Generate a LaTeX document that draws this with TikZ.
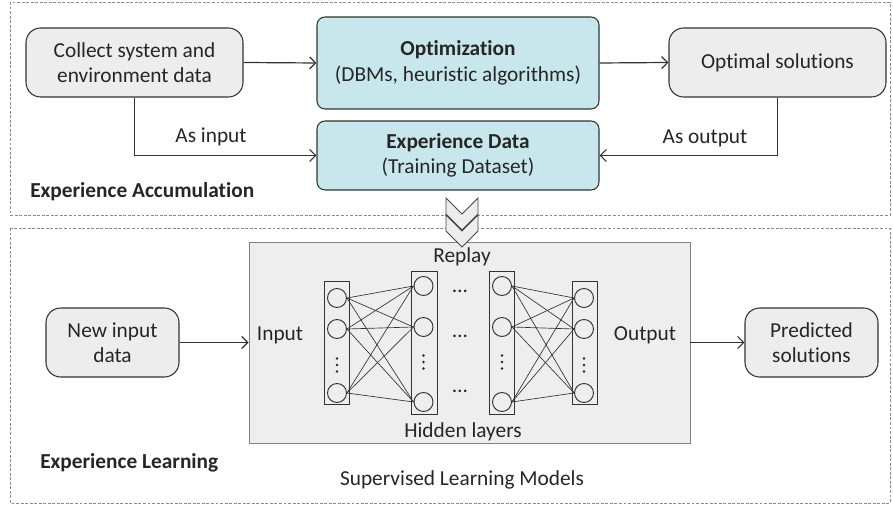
\documentclass[tikz,border=0pt]{standalone}
\usepackage{fontspec}
\setmainfont{Carlito}[Ligatures={NoCommon}]
\usetikzlibrary{arrows.meta}
\definecolor{nodegray}{HTML}{EDEDED}
\definecolor{myteal}{HTML}{C8E7ED}
\definecolor{boxgray}{HTML}{EEEEEE}
\definecolor{txt}{HTML}{262626}
\definecolor{edgec}{HTML}{333333}
\definecolor{dashc}{HTML}{8C8C8C}
\begin{document}
\begin{tikzpicture}[x=0.75pt,y=-0.75pt,
  font=\fontsize{16}{19}\selectfont, text=txt,
  rbox/.style={draw=edgec, fill=nodegray, rounded corners=11pt, align=center, inner sep=0pt, line width=0.8pt},
  tbox/.style={draw=edgec, fill=myteal, rounded corners=6pt, align=center, inner sep=0pt, line width=0.8pt},
  arr/.style={draw=edgec, line width=0.9pt, -{Straight Barb[length=4.5pt,width=9pt]}},
  dbox/.style={draw=dashc, dash pattern=on 2.2pt off 1.2pt, line width=0.5pt},
  graybox/.style={draw=gray, fill=boxgray, inner sep=0pt, line width=0.7pt},
  layer/.style={draw=edgec, fill=boxgray, inner sep=0pt, line width=0.7pt},
  neuron/.style={circle, draw=edgec, fill=boxgray, minimum size=14.25pt, inner sep=0pt, line width=0.7pt},
  link/.style={draw=edgec, line width=0.5pt},
  vdot/.style={fill=txt},
  chev/.style={draw=edgec!90, fill=nodegray, line width=0.7pt, line join=miter},
  plain/.style={inner sep=0pt, align=center}]
\useasboundingbox (0,0) rectangle (893,505);

% dashed group frames
\draw[dbox] (10,2) rectangle (890,215);
\draw[dbox] (10,228) rectangle (890,503);

% top section
\node[rbox, minimum width=162.75pt, minimum height=51.75pt] (collect) at (134.5,62.5) {Collect system and\\environment data};
\node[tbox, minimum width=211.5pt, minimum height=69pt] (opt) at (458,63) {\textbf{Optimization}\\(DBMs, heuristic algorithms)};
\node[rbox, minimum width=162.75pt, minimum height=51.75pt] (optimal) at (777.5,62.5) {Optimal solutions};
\node[tbox, minimum width=211.5pt, minimum height=51.75pt] (expdata) at (458,155.5) {\textbf{Experience Data}\\(Training Dataset)};

\draw[arr] (collect.east) -- (opt.west);
\draw[arr] (opt.east) -- (optimal.west);
\draw[arr] (collect.south) |- (expdata.west);
\draw[arr] (optimal.south) |- (expdata.east);

\node[plain] (asin) at (211,137) {As input};
\node[plain] (asout) at (705,138) {As output};
\node[plain, anchor=west, font=\fontsize{16}{19}\selectfont\bfseries] (accum) at (30,192) {Experience Accumulation};

% bottom section
\node[rbox, minimum width=99.75pt, minimum height=51.75pt] (newin) at (112.5,342.5) {New input\\data};
\node[rbox, minimum width=99.75pt, minimum height=51.75pt] (pred) at (811.5,342.5) {Predicted\\solutions};
\node[graybox, minimum width=330.75pt, minimum height=150.75pt] (slm) at (469.5,342.5) {};

\draw[arr] (newin.east) -- (slm.west);
\draw[arr] (slm.east) -- (pred.west);

% chevrons
\filldraw[chev] (446,198) -- (462,214) -- (478,198) -- (478,214) -- (462,230) -- (446,214) -- cycle;
\filldraw[chev] (446,215) -- (462,231) -- (478,215) -- (478,231) -- (462,247) -- (446,231) -- cycle;

\node[plain] (replay) at (462,257) {Replay};
\node[plain] (hidden) at (463,432) {Hidden layers};
\node[plain] (inlab) at (280,335) {Input};
\node[plain] (outlab) at (645,335) {Output};

% layers
\node[layer, minimum width=18.75pt, minimum height=92.25pt] (L1) at (336.5,342.5) {};
\node[layer, minimum width=19.5pt, minimum height=107.25pt] (L2) at (424,342.5) {};
\node[layer, minimum width=18.75pt, minimum height=107.25pt] (L3) at (501.5,342.5) {};
\node[layer, minimum width=18.75pt, minimum height=92.25pt] (L4) at (584.5,342.5) {};

\node[neuron] (a1) at (337,298) {};
\node[neuron] (a2) at (337,329) {};
\node[neuron] (a3) at (337,393) {};
\node[neuron] (b1) at (423.5,286) {};
\node[neuron] (b2) at (423.5,327) {};
\node[neuron] (b3) at (423.5,402) {};
\node[neuron] (c1) at (502,286) {};
\node[neuron] (c2) at (502,327) {};
\node[neuron] (c3) at (502,402) {};
\node[neuron] (d1) at (584,298) {};
\node[neuron] (d2) at (584,329) {};
\node[neuron] (d3) at (584,393) {};

\foreach \i in {1,2,3}{
  \foreach \j in {1,2,3}{
    \draw[link] (a\i.east) -- (b\j.west);
    \draw[link] (c\i.east) -- (d\j.west);
  }
}

% vertical ellipses inside layers
\foreach \x/\y in {337/365, 423.5/362, 502/362, 584/365}{
  \foreach \d in {-6.5,0,6.5}{
    \fill[vdot] (\x,\y+\d) circle (1pt);
  }
}

\node[plain] (h1) at (460,291) {\dots};
\node[plain] (h2) at (460,336) {\dots};
\node[plain] (h3) at (460,391) {\dots};

\node[plain] (slmlab) at (462,480) {Supervised Learning Models};
\node[plain, anchor=west, font=\fontsize{16}{19}\selectfont\bfseries] (learn) at (40,463) {Experience Learning};
\end{tikzpicture}
\end{document}
